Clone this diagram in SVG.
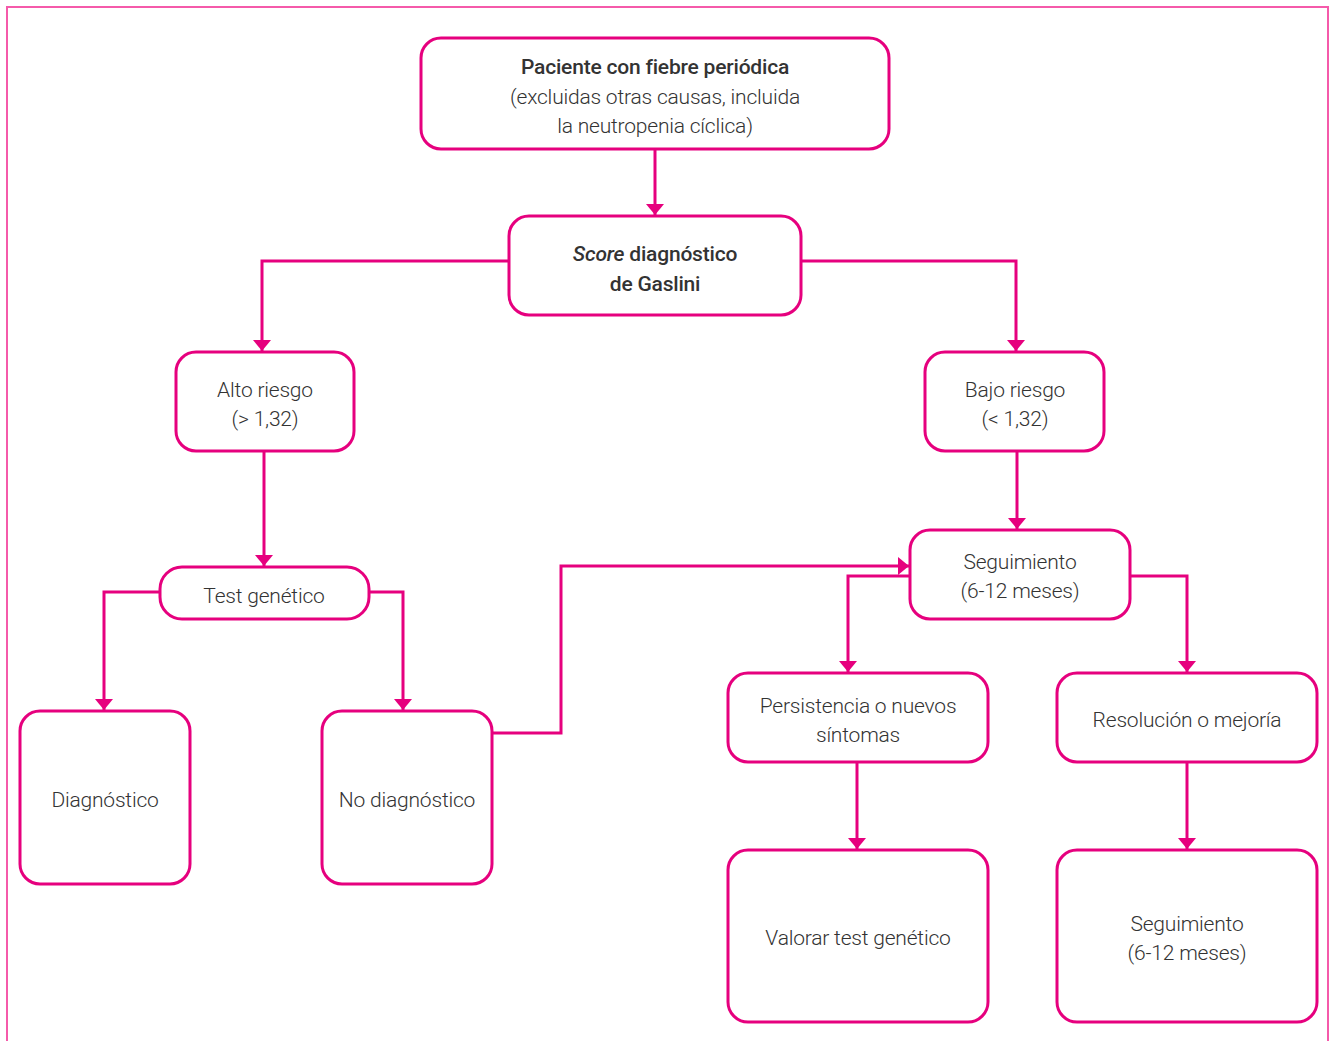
<svg xmlns="http://www.w3.org/2000/svg" width="1335" height="1041" viewBox="0 0 1335 1041">
<defs>
<style>
.n{fill:#fff;stroke:#e6007e;stroke-width:3}
.c{fill:none;stroke:#e6007e;stroke-width:3}
.t{font-family:Roboto,"Liberation Sans",sans-serif;font-size:21px;letter-spacing:-0.2px;font-weight:300;fill:#333;text-anchor:middle}
.b{font-weight:500}
</style>
<marker id="a" viewBox="0 0 11 18" refX="11" refY="9" markerWidth="11" markerHeight="18" markerUnits="userSpaceOnUse" orient="auto">
<path d="M0,0 L11,9 L0,18 Z" fill="#e6007e"/>
</marker>
</defs>
<rect x="7" y="7" width="1321" height="1045" fill="none" stroke="#f55aaa" stroke-width="2"/>
<g id="connectors">
<path class="c" d="M655,149 V215" marker-end="url(#a)"/>
<path class="c" d="M509,261 H262 V351" marker-end="url(#a)"/>
<path class="c" d="M801,261 H1016 V351" marker-end="url(#a)"/>
<path class="c" d="M264,451 V566" marker-end="url(#a)"/>
<path class="c" d="M1017,451 V529" marker-end="url(#a)"/>
<path class="c" d="M160,592 H104 V710" marker-end="url(#a)"/>
<path class="c" d="M369,592 H403 V710" marker-end="url(#a)"/>
<path class="c" d="M492,733 H561 V566 H909" marker-end="url(#a)"/>
<path class="c" d="M910,576 H848 V672" marker-end="url(#a)"/>
<path class="c" d="M1130,576 H1187 V672" marker-end="url(#a)"/>
<path class="c" d="M857,762 V849" marker-end="url(#a)"/>
<path class="c" d="M1187,762 V849" marker-end="url(#a)"/>
</g>
<g id="n1"><rect class="n" x="421" y="38" width="468" height="111" rx="20"/>
<text class="t b" x="655" y="74">Paciente con fiebre periódica</text>
<text class="t" x="655" y="104">(excluidas otras causas, incluida</text>
<text class="t" x="655" y="133">la neutropenia cíclica)</text></g>
<g id="n2"><rect class="n" x="509" y="216" width="292" height="99" rx="20"/>
<text class="t b" x="655" y="261"><tspan font-style="italic">Score</tspan> diagnóstico</text>
<text class="t b" x="655" y="291">de Gaslini</text></g>
<g id="n3"><rect class="n" x="176" y="352" width="178" height="99" rx="20"/>
<text class="t" x="265" y="397">Alto riesgo</text>
<text class="t" x="265" y="426">(&gt; 1,32)</text></g>
<g id="n4"><rect class="n" x="925" y="352" width="179" height="99" rx="20"/>
<text class="t" x="1015" y="397">Bajo riesgo</text>
<text class="t" x="1015" y="426">(&lt; 1,32)</text></g>
<g id="n5"><rect class="n" x="160" y="567" width="209" height="52" rx="22"/>
<text class="t" x="264" y="603">Test genético</text></g>
<g id="n6"><rect class="n" x="20" y="711" width="170" height="173" rx="20"/>
<text class="t" x="105" y="807">Diagnóstico</text></g>
<g id="n7"><rect class="n" x="322" y="711" width="170" height="173" rx="20"/>
<text class="t" x="407" y="807">No diagnóstico</text></g>
<g id="n8"><rect class="n" x="910" y="530" width="220" height="89" rx="20"/>
<text class="t" x="1020" y="569">Seguimiento</text>
<text class="t" x="1020" y="598">(6-12 meses)</text></g>
<g id="n9"><rect class="n" x="728" y="673" width="260" height="89" rx="20"/>
<text class="t" x="858" y="713">Persistencia o nuevos</text>
<text class="t" x="858" y="742">síntomas</text></g>
<g id="n10"><rect class="n" x="1057" y="673" width="260" height="89" rx="20"/>
<text class="t" x="1187" y="727">Resolución o mejoría</text></g>
<g id="n11"><rect class="n" x="728" y="850" width="260" height="172" rx="20"/>
<text class="t" x="858" y="945">Valorar test genético</text></g>
<g id="n12"><rect class="n" x="1057" y="850" width="260" height="172" rx="20"/>
<text class="t" x="1187" y="931">Seguimiento</text>
<text class="t" x="1187" y="960">(6-12 meses)</text></g>
</svg>
